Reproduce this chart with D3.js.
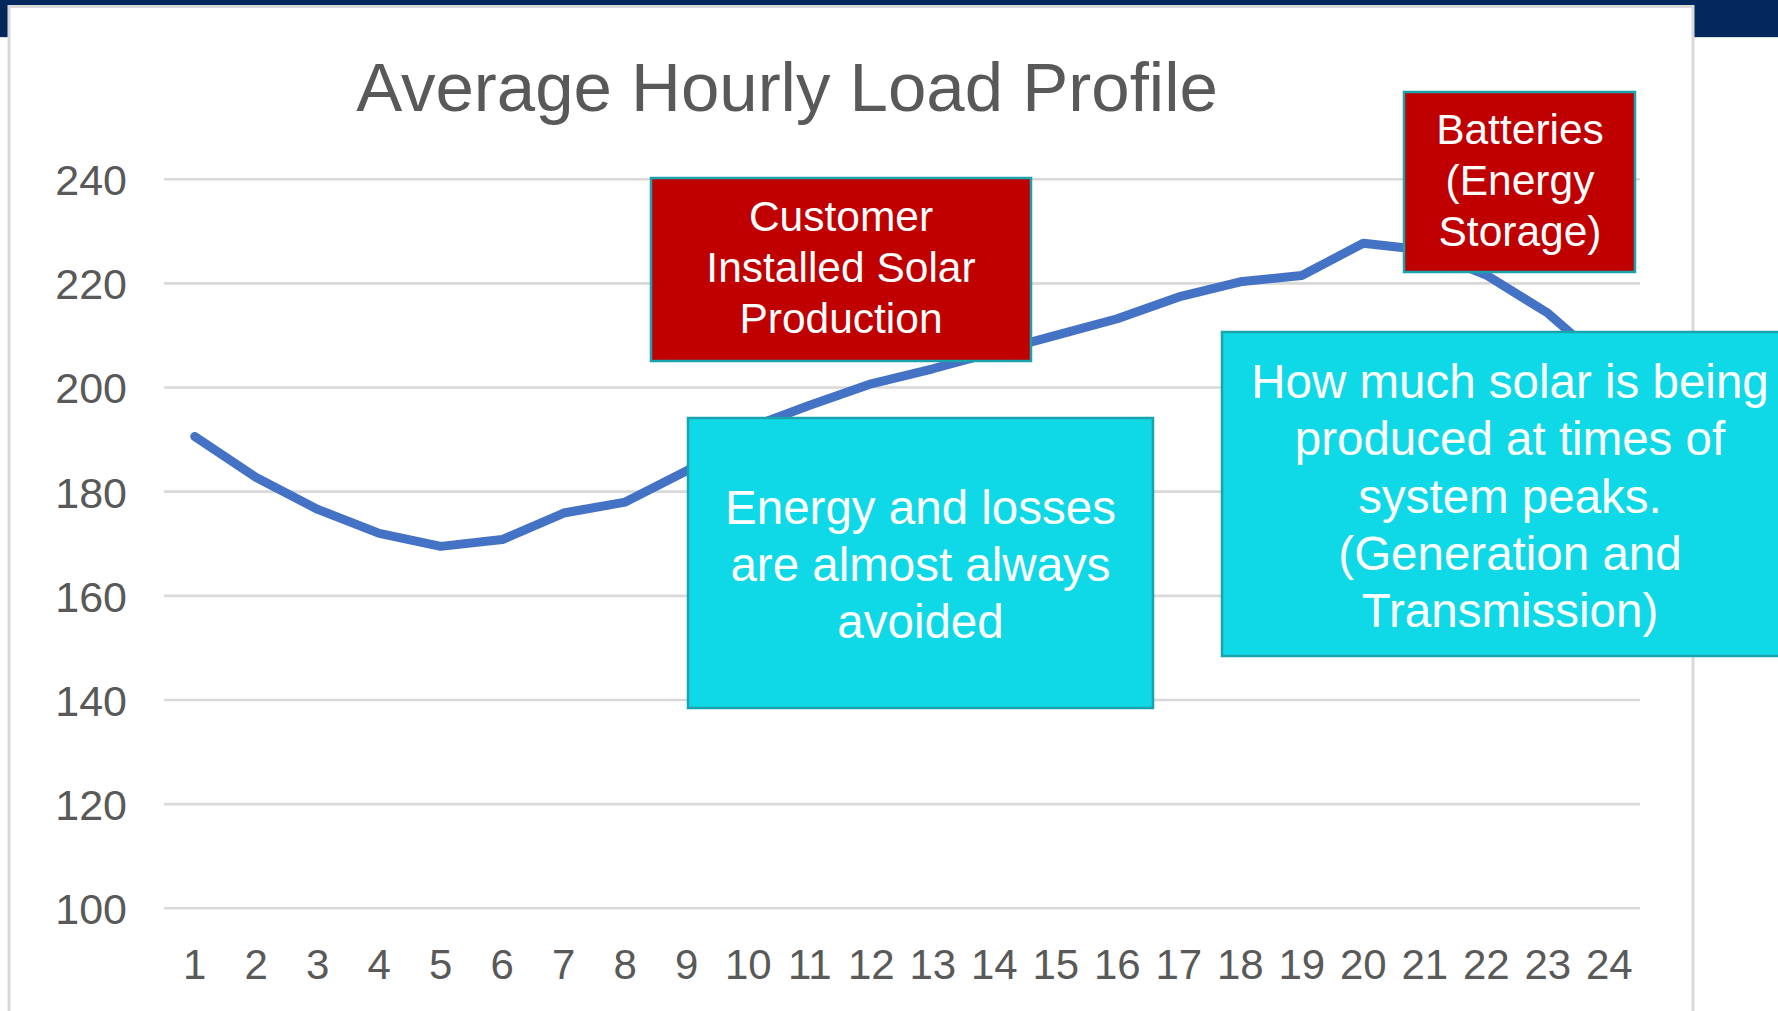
<!DOCTYPE html>
<html>
<head>
<meta charset="utf-8">
<script src="https://cdn.jsdelivr.net/npm/d3@7"></script>
<style>
  html, body { margin: 0; padding: 0; background: #ffffff; overflow: hidden; }
  svg { display: block; }
  text { font-family: "Liberation Sans", Arial, sans-serif; }
</style>
</head>
<body>
<svg id="chart" width="1778" height="1011"></svg>
<script>
// ---- Data ----
const hours = ["1","2","3","4","5","6","7","8","9","10","11","12","13","14","15","16","17","18","19","20","21","22","23","24"];
const load = [190.6,182.7,176.6,172.0,169.5,170.8,175.9,178.0,184.0,192.2,196.6,200.7,203.6,206.8,210.0,213.2,217.4,220.3,221.5,227.7,226.4,221.6,214.3,204.0];
const yTicks = [100,120,140,160,180,200,220,240];
const title = "Average Hourly Load Profile";

const redNotes = [
  { lines: ["Customer", "Installed Solar", "Production"] },
  { lines: ["Batteries", "(Energy", "Storage)"] }
];
const cyanNotes = [
  { lines: ["Energy and losses", "are almost always", "avoided"] },
  { lines: ["How much solar is being", "produced at times of", "system peaks.", "(Generation and", "Transmission)"] }
];

// ---- Layout ----
const svg = d3.select("#chart");
const W = 1778, H = 1011;

// navy slide band
svg.append("rect").attr("x", 0).attr("y", 0).attr("width", W).attr("height", 37).attr("fill", "#04285b");
svg.append("line").attr("x1", 0).attr("x2", W).attr("y1", 37.5).attr("y2", 37.5).attr("stroke", "#dcdcdc").attr("stroke-width", 1);

// chart frame
svg.append("rect").attr("x", 9).attr("y", 6.5).attr("width", 1684).attr("height", 1040)
  .attr("fill", "#ffffff").attr("stroke", "#d9d9d9").attr("stroke-width", 3);

const x = d3.scaleBand().domain(hours).range([164, 1640]).padding(0);
const y = d3.scaleLinear().domain([100, 240]).range([908.3, 179.2]);
const cx = d => x(d) + x.bandwidth() / 2;

// gridlines
svg.append("g").selectAll("line").data(yTicks).join("line")
  .attr("x1", 164).attr("x2", 1640)
  .attr("y1", d => y(d)).attr("y2", d => y(d))
  .attr("stroke", "#d9d9d9").attr("stroke-width", 2.6);

// y axis
const yAxis = svg.append("g").attr("transform", "translate(164,0)")
  .call(d3.axisLeft(y).tickValues(yTicks).tickSize(0).tickPadding(37).tickFormat(d3.format("d")));
yAxis.select(".domain").remove();
yAxis.selectAll("text").attr("fill", "#595959").attr("font-size", 43)
  .attr("font-family", "Liberation Sans, Arial, sans-serif").attr("dy", "0.36em");

// x axis
const xAxis = svg.append("g").attr("transform", "translate(0,908.3)")
  .call(d3.axisBottom(x).tickSize(0));
xAxis.select(".domain").remove();
xAxis.selectAll("text").attr("fill", "#595959").attr("font-size", 42)
  .attr("font-family", "Liberation Sans, Arial, sans-serif").attr("y", 56).attr("dy", "0.36em");

// title
svg.append("text").attr("x", 787).attr("y", 111).attr("text-anchor", "middle")
  .attr("font-size", 69).attr("fill", "#595959").text(title);

// line
const line = d3.line().x((d, i) => cx(hours[i])).y(d => y(d));
svg.append("path").datum(load).attr("d", line)
  .attr("fill", "none").attr("stroke", "#4472c4").attr("stroke-width", 9)
  .attr("stroke-linejoin", "round").attr("stroke-linecap", "round");

// annotation boxes
const redBoxes = [
  { x: 651, y: 178, w: 380, h: 183, cx: 841, lineY: [215.5, 266.5, 317.5] },
  { x: 1404, y: 92, w: 231, h: 180, cx: 1520, lineY: [129, 180, 231] }
];
const cyanBoxes = [
  { x: 688, y: 418, w: 465, h: 290, cx: 920.5, lineY: [507, 564, 621] },
  { x: 1222, y: 332, w: 576, h: 324, cx: 1510, lineY: [381, 438, 495.5, 553, 610] }
];

function drawBox(box, note, fill, fs) {
  const g = svg.append("g");
  g.append("rect").attr("x", box.x).attr("y", box.y).attr("width", box.w).attr("height", box.h)
    .attr("fill", fill).attr("stroke", "#1aa3ad").attr("stroke-width", 2.5);
  note.lines.forEach((t, i) => {
    g.append("text").attr("x", box.cx).attr("y", box.lineY[i]).attr("dy", "0.36em")
      .attr("text-anchor", "middle").attr("font-size", fs).attr("fill", "#ffffff").text(t);
  });
}
redNotes.forEach((n, i) => drawBox(redBoxes[i], n, "#c00000", 42.5));
cyanNotes.forEach((n, i) => drawBox(cyanBoxes[i], n, "#10d9e7", 47.5));
</script>
</body>
</html>
